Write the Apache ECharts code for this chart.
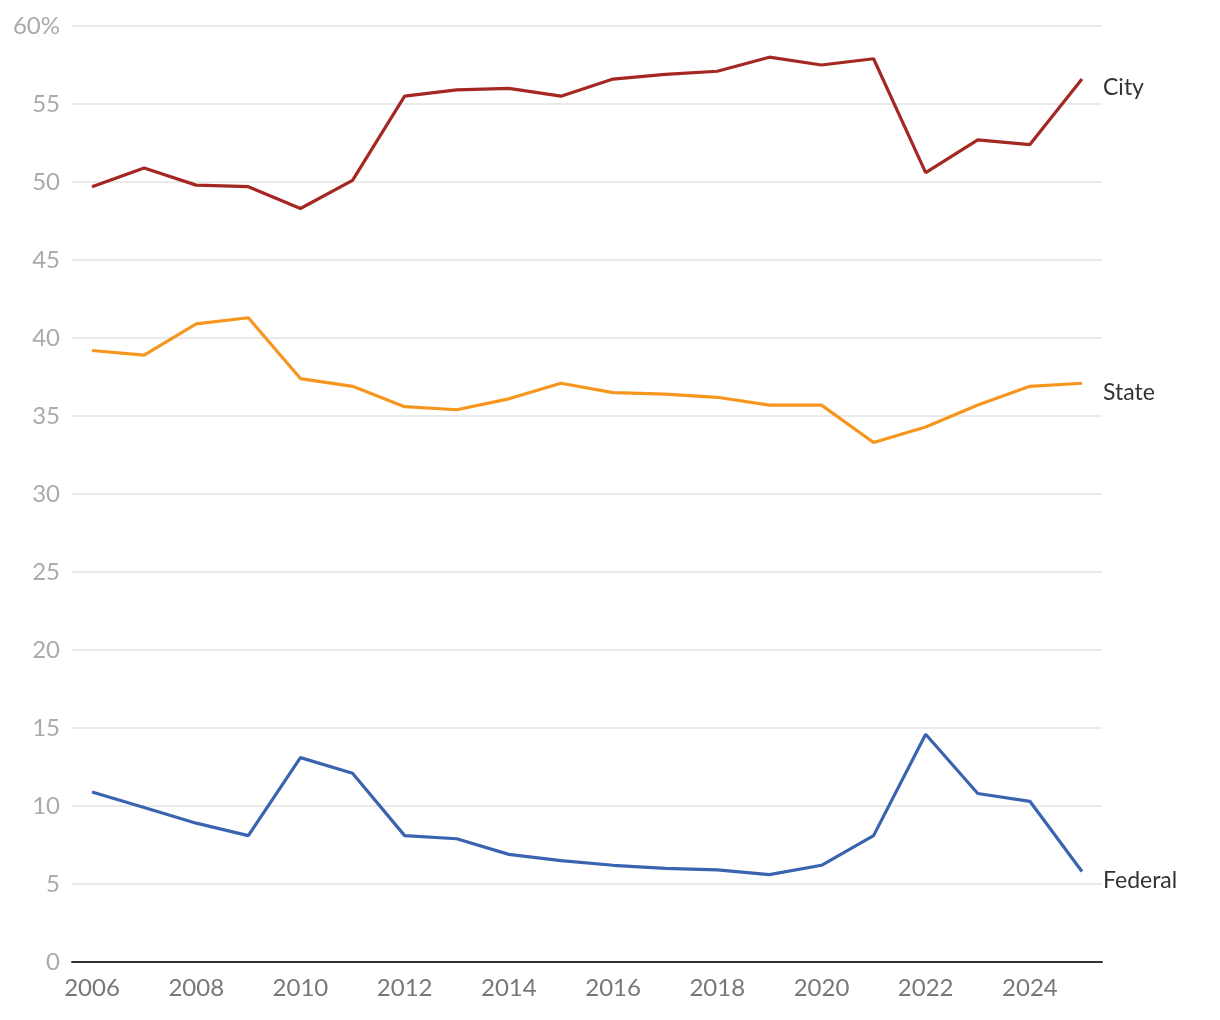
<!DOCTYPE html>
<html>
<head>
<meta charset="utf-8">
<script src="https://cdn.jsdelivr.net/npm/echarts@6/dist/echarts.min.js"></script>
<style>
  html, body { margin: 0; padding: 0; background: #fff; }
  #main { width: 1220px; height: 1020px; }
</style>
</head>
<body>
<div id="main"></div>
<script>
var years = [2006, 2007, 2008, 2009, 2010, 2011, 2012, 2013, 2014, 2015,
             2016, 2017, 2018, 2019, 2020, 2021, 2022, 2023, 2024, 2025];
var city = [49.7, 50.9, 49.8, 49.7, 48.3, 50.1, 55.5, 55.9, 56.0, 55.5,
            56.6, 56.9, 57.1, 58.0, 57.5, 57.9, 50.6, 52.7, 52.4, 56.6];
var state = [39.2, 38.9, 40.9, 41.3, 37.4, 36.9, 35.6, 35.4, 36.1, 37.1,
             36.5, 36.4, 36.2, 35.7, 35.7, 33.3, 34.3, 35.7, 36.9, 37.1];
var federal = [10.9, 9.9, 8.9, 8.1, 13.1, 12.1, 8.1, 7.9, 6.9, 6.5,
               6.2, 6.0, 5.9, 5.6, 6.2, 8.1, 14.6, 10.8, 10.3, 5.8];
var xTicks = [2006, 2008, 2010, 2012, 2014, 2016, 2018, 2020, 2022, 2024];

var chart = echarts.init(document.getElementById('main'));

function pairs(vals) {
  return years.map(function (y, i) { return [y, vals[i]]; });
}

function line(name, vals, color) {
  return {
    name: name,
    type: 'line',
    data: pairs(vals),
    symbol: 'none',
    lineStyle: { color: color, width: 3.2 },
    itemStyle: { color: color },
    endLabel: {
      show: true,
      formatter: '{a}',
      distance: 21,
      offset: [0, 9],
      color: '#333',
      fontSize: 23,
      fontFamily: 'Lato'
    },
    animation: false
  };
}

var option = {
  backgroundColor: '#fff',
  grid: { left: 72, right: 118, top: 26, bottom: 58 },
  xAxis: {
    type: 'value',
    min: 2005.616,
    max: 2025.384,
    splitLine: { show: false },
    axisTick: { show: false },
    axisLine: { show: true, onZero: false, lineStyle: { color: '#333', width: 2 } },
    axisLabel: {
      customValues: xTicks,
      formatter: function (v) { return String(v); },
      color: '#777',
      fontSize: 24,
      fontFamily: 'Lato',
      margin: 14
    }
  },
  yAxis: {
    type: 'value',
    min: 0,
    max: 60,
    interval: 5,
    axisLine: { show: false },
    axisTick: { show: false },
    splitLine: { lineStyle: { color: '#e3e3e3', width: 1.5 } },
    axisLabel: {
      color: '#aaa',
      fontSize: 24,
      fontFamily: 'Lato',
      margin: 12,
      formatter: function (v) { return v === 60 ? '60%' : v; }
    }
  },
  series: [
    line('City', city, '#a52722'),
    line('State', state, '#f7961e'),
    line('Federal', federal, '#3a64b0')
  ]
};

chart.setOption(option);
</script>
</body>
</html>
